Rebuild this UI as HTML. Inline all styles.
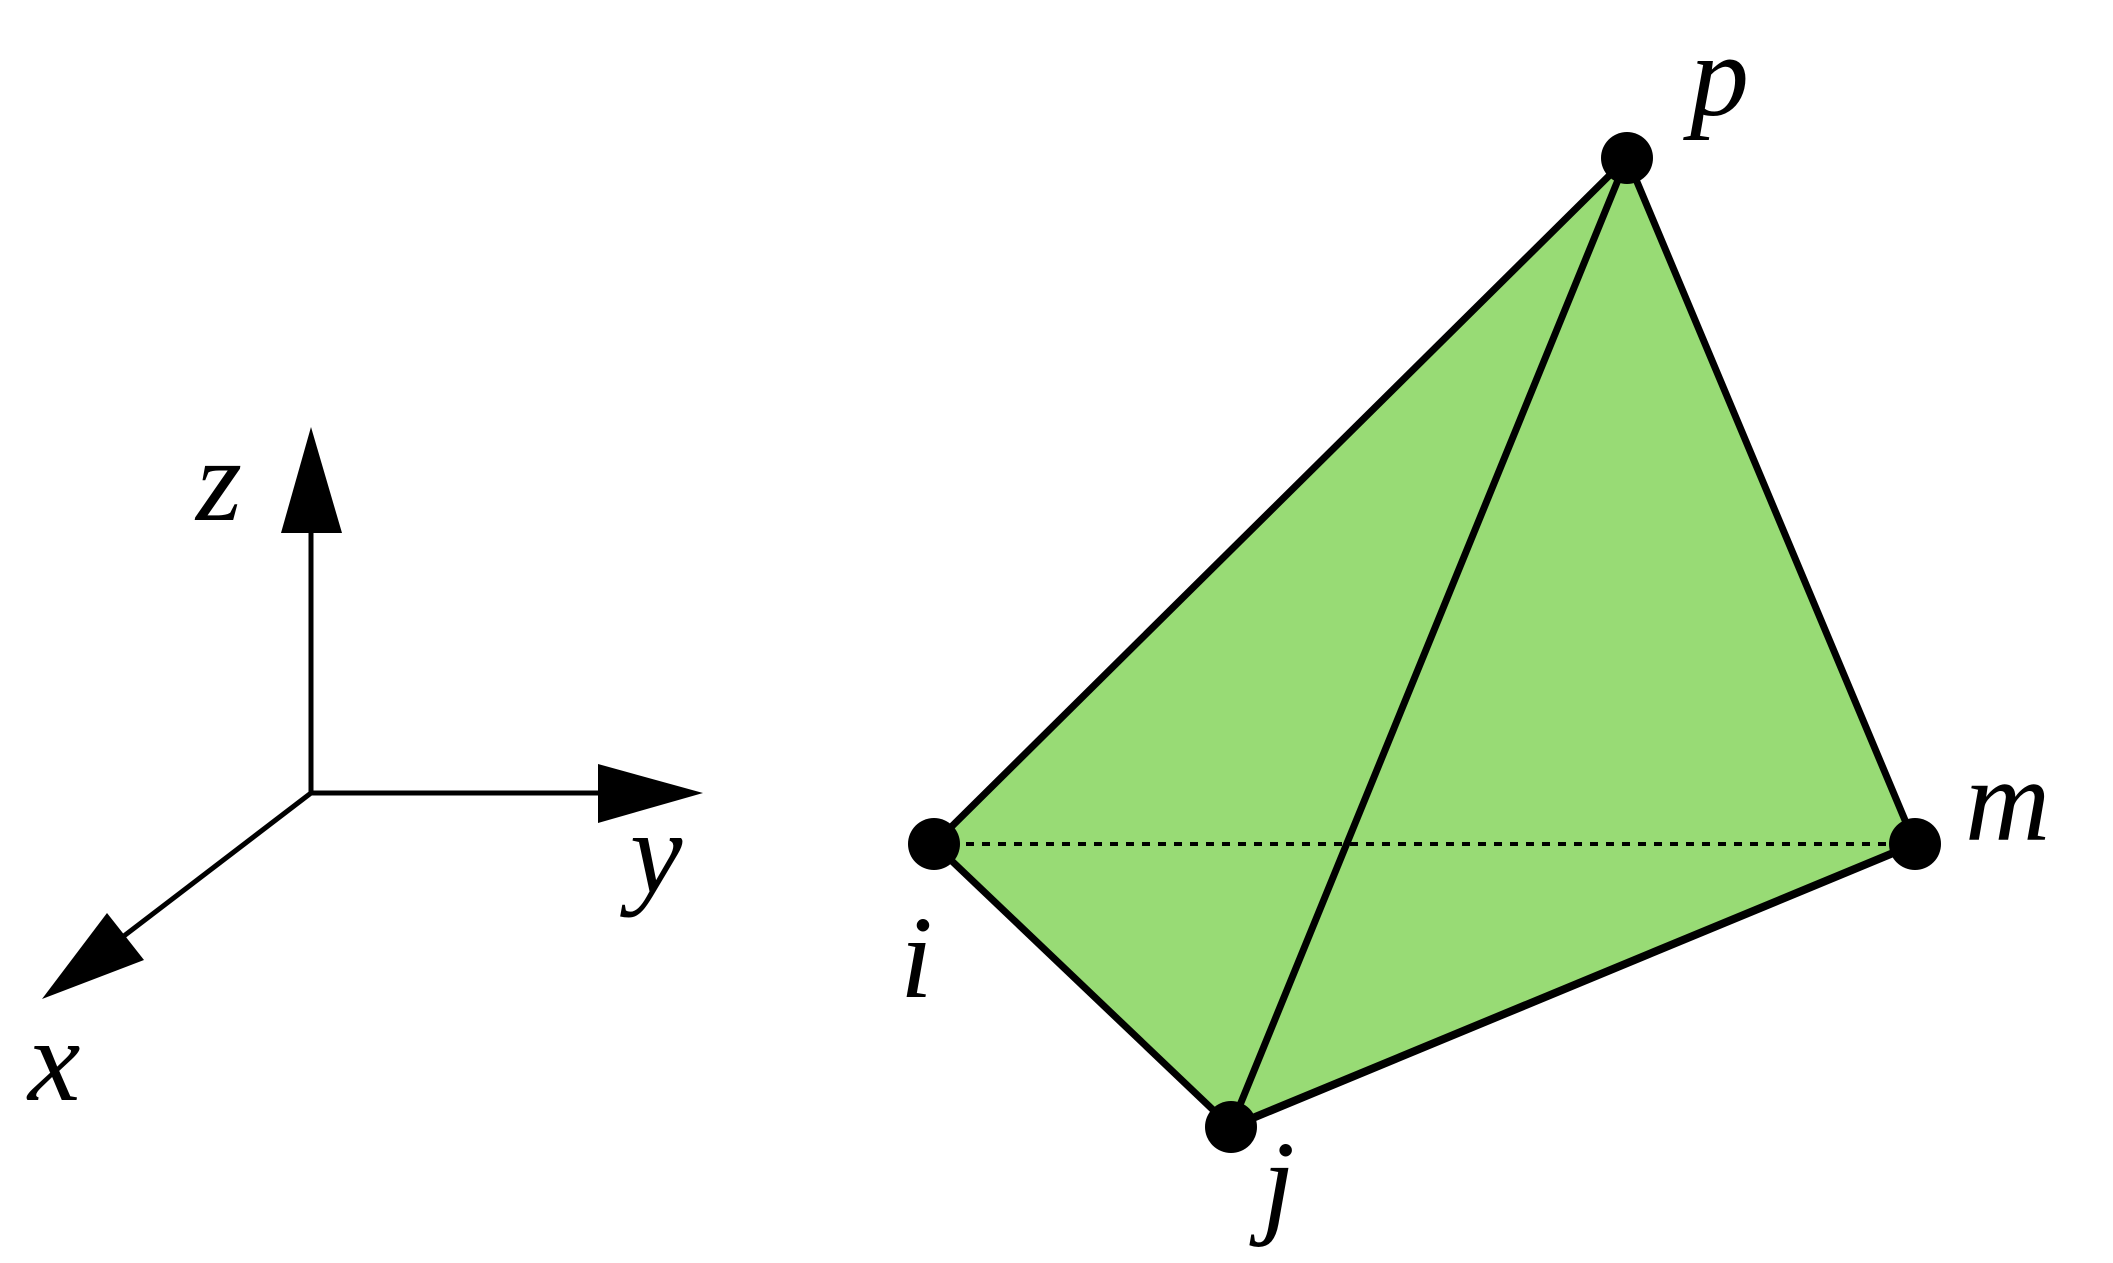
<!DOCTYPE html>
<html><head><style>
html,body{margin:0;padding:0;background:#fff;}
svg{display:block;}
text{font-family:"Liberation Serif",serif;font-style:italic;font-size:118px;fill:#000;}
</style></head><body>
<svg width="2113" height="1263" viewBox="0 0 2113 1263">
  <g>
    <line x1="311" y1="793" x2="311" y2="528" stroke="#000" stroke-width="5"/>
    <polygon points="311,427 281,533 342,533" fill="#000"/>
    <line x1="309" y1="793" x2="603" y2="793" stroke="#000" stroke-width="5"/>
    <polygon points="703,793 598,764 598,823" fill="#000"/>
    <line x1="311" y1="793" x2="120" y2="939" stroke="#000" stroke-width="5"/>
    <polygon points="42,999 107,913 144,960" fill="#000"/>
    <text x="196" y="520">z</text>
    <text x="630" y="892">y</text>
    <text x="28" y="1100">x</text>
  </g>
  <g>
    <polygon points="934,844 1627,158 1915,844 1231,1127" fill="#98db75"/>
    <line x1="934" y1="844" x2="1915" y2="844" stroke="#000" stroke-width="4" stroke-dasharray="8,8"/>
    <line x1="934" y1="844" x2="1627" y2="158" stroke="#000" stroke-width="7"/>
    <line x1="1627" y1="158" x2="1915" y2="844" stroke="#000" stroke-width="7"/>
    <line x1="1627" y1="158" x2="1231" y2="1127" stroke="#000" stroke-width="7"/>
    <line x1="934" y1="844" x2="1231" y2="1127" stroke="#000" stroke-width="7"/>
    <line x1="1231" y1="1127" x2="1915" y2="844" stroke="#000" stroke-width="8"/>
    <circle cx="1627" cy="158" r="26" fill="#000"/>
    <circle cx="934" cy="844" r="26" fill="#000"/>
    <circle cx="1915" cy="844" r="26" fill="#000"/>
    <circle cx="1231" cy="1127" r="26" fill="#000"/>
    <text x="1690" y="115">p</text>
    <text x="1965" y="840">m</text>
    <text x="900" y="997">i</text>
    <text x="1262" y="1222">j</text>
  </g>
</svg>
</body></html>
